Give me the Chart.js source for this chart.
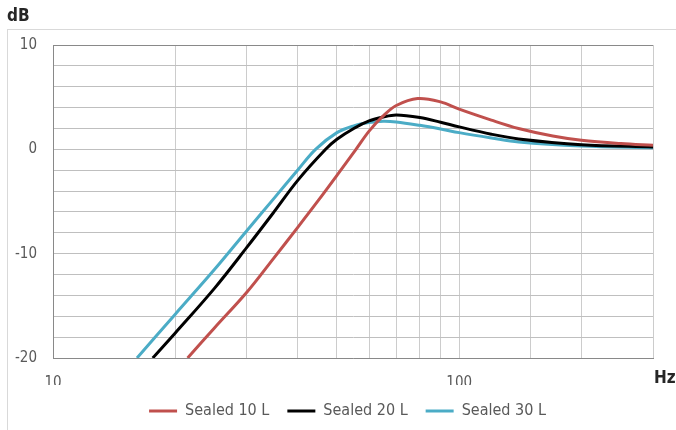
<!DOCTYPE html>
<html>
<head>
    <title>Sealed box response</title>
    <script src="https://cdn.jsdelivr.net/npm/chart.js"></script>
    <style>
        body { margin: 0; background: #fff; overflow: hidden; }
        #wrap { position: relative; width: 676px; height: 430px; }
        #frame { position: absolute; left: 7px; top: 29px; width: 700px; height: 450px; border: 1px solid #d9d9d9; }
        canvas { position: absolute; left: 0; top: 0; }
    </style>
</head>
<body>
<div id="wrap">
    <div id="frame"></div>
    <canvas id="respChart" width="676" height="430"></canvas>
</div>
<script>
    // values (Hz, dB)
    const freq10 = [21.45, 25, 30, 35, 40, 45, 50, 55.7, 60, 65, 70, 79, 90, 100, 120, 140, 170, 200, 250, 300];
    const db10   = [-20, -17.1, -13.7, -10.4, -7.5, -4.9, -2.5, 0, 1.75, 3.2, 4.2, 4.87, 4.55, 3.85, 2.8, 2.0, 1.28, 0.87, 0.55, 0.38];

    const freq20 = [17.6, 20, 25, 30, 35, 40, 46.9, 50, 55, 60, 65, 70, 80, 90, 100, 120, 140, 200, 300];
    const db20   = [-20, -17.6, -13.3, -9.4, -6.0, -3.0, 0, 0.96, 2.0, 2.72, 3.1, 3.3, 3.05, 2.6, 2.15, 1.45, 1.0, 0.45, 0.22];

    const freq30 = [16.1, 20, 25, 30, 35, 40, 44.3, 50, 55, 60, 65, 70, 80, 90, 100, 120, 140, 200, 300];
    const db30   = [-20, -15.8, -11.5, -7.8, -4.7, -2.0, 0, 1.6, 2.25, 2.57, 2.7, 2.63, 2.3, 1.95, 1.6, 1.09, 0.7, 0.32, 0.16];

    const seriesNames = ['Sealed 10 L', 'Sealed 20 L', 'Sealed 30 L'];
    const seriesColors = ['#c0504d', '#000000', '#4bacc6'];
    const xLabels = [10, 100];
    const yLabels = [-20, -10, 0, 10];

    const pts = (f, d) => f.map((v, i) => ({ x: v, y: d[i] }));
    const FONT = '"Liberation Sans Narrow", "DejaVu Sans Condensed", "Liberation Sans", sans-serif';

    const unitLabels = {
        id: 'unitLabels',
        afterLayout(chart) {
            // legend sits centred under the plot area, not the canvas
            chart.legend.left += 21;
            chart.legend.right += 21;
        },
        afterDraw(chart) {
            const ctx = chart.ctx;
            ctx.save();
            ctx.fillStyle = '#262626';
            ctx.font = 'bold 17px ' + FONT;
            ctx.textBaseline = 'middle';
            ctx.textAlign = 'left';
            ctx.fillText('dB', 7, 17);
            ctx.fillText('Hz', 654, 379);
            ctx.restore();
        }
    };

    const datasets = [pts(freq10, db10), pts(freq20, db20), pts(freq30, db30)].map((d, i) => ({
        label: seriesNames[i],
        data: d,
        borderColor: seriesColors[i],
        backgroundColor: seriesColors[i],
        borderWidth: 3,
        pointRadius: 0,
        tension: 0.35,
        fill: false
    }));

    new Chart(document.getElementById('respChart').getContext('2d'), {
        type: 'line',
        data: { datasets: datasets },
        options: {
            responsive: false,
            animation: false,
            layout: { padding: { left: 0, top: 45, right: 23, bottom: 1 } },
            plugins: {
                legend: {
                    position: 'bottom',
                    labels: {
                        usePointStyle: true,
                        pointStyle: 'line',
                        pointStyleWidth: 28,
                        color: '#595959',
                        font: { family: FONT, size: 16 },
                        padding: 18
                    }
                },
                tooltip: { enabled: false }
            },
            scales: {
                x: {
                    type: 'logarithmic',
                    min: 10,
                    max: 300,
                    afterFit: s => { s.height = 27; },
                    grid: { color: '#cccccc', drawTicks: false },
                    border: { color: '#898989', width: 1 },
                    ticks: {
                        autoSkip: false,
                        maxRotation: 0,
                        padding: 16,
                        color: '#595959',
                        font: { family: FONT, size: 15 },
                        callback: v => xLabels.includes(v) ? String(v) : ''
                    }
                },
                y: {
                    min: -20,
                    max: 10,
                    afterFit: s => { s.width = 53; },
                    grid: {
                        drawTicks: false,
                        color: c => c.tick && c.tick.value === 10 ? '#898989' : '#bfbfbf'
                    },
                    border: { color: '#898989', width: 1 },
                    ticks: {
                        stepSize: 2,
                        autoSkip: false,
                        padding: 16,
                        color: '#595959',
                        font: { family: FONT, size: 15 },
                        callback: v => yLabels.includes(v) ? String(v) : ''
                    }
                }
            }
        },
        plugins: [unitLabels]
    });
</script>
</body>
</html>
